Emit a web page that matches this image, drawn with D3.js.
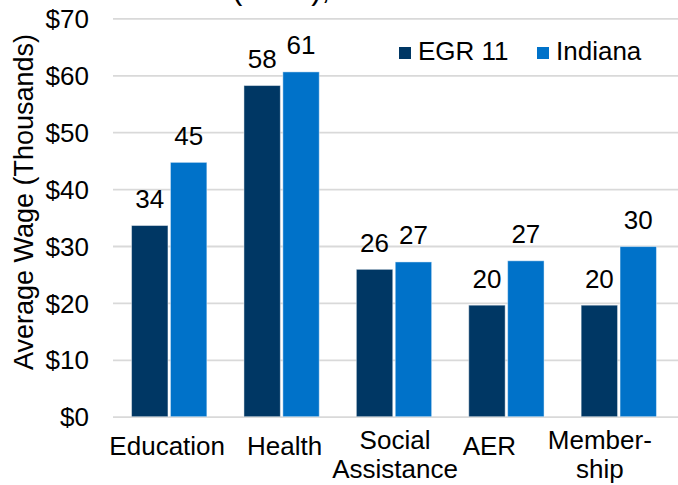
<!DOCTYPE html>
<html>
<head>
<meta charset="utf-8">
<script src="https://cdn.jsdelivr.net/npm/d3@7/dist/d3.min.js"></script>
<style>
  html, body { margin: 0; padding: 0; background: #fff; }
  svg { display: block; font-family: "Liberation Sans", Arial, sans-serif; }
</style>
</head>
<body>
<svg id="chart" width="678" height="485"></svg>
<script>
// ---- data ----
const categories = ["Education", "Health", "Social Assistance", "AER", "Membership"];
const categoryLines = [["Education"], ["Health"], ["Social", "Assistance"], ["AER"], ["Member-", "ship"]];
const seriesNames = ["EGR 11", "Indiana"];
const egr11 = [33.6, 58.2, 25.9, 19.6, 19.6];
const indiana = [44.7, 60.6, 27.2, 27.4, 29.9];
const yTicks = [0, 10, 20, 30, 40, 50, 60, 70];
const yTitle = "Average Wage (Thousands)";
const titleFragment = "(2021),";

// ---- layout ----
const W = 678, H = 485;
const plot = { left: 113, right: 675, top: 18.4, bottom: 416.7 };
const colors = { "EGR 11": "#003764", "Indiana": "#0072C9" };
const labelNudge = [-2, 3, 1, -17, -19];
const FONT = 26;

const svg = d3.select("#chart");

const table = categories.map((c, i) => ({ cat: c, lines: categoryLines[i], nudge: labelNudge[i],
  values: [{ s: seriesNames[0], v: egr11[i] }, { s: seriesNames[1], v: indiana[i] }] }));

const x = d3.scaleBand().domain(categories).range([plot.left, plot.right])
  .paddingInner(0.33).paddingOuter(0.165);
const x1 = d3.scaleBand().domain(seriesNames).range([0, x.bandwidth()]).paddingInner(0.064);
const y = d3.scaleLinear().domain([0, 70]).range([plot.bottom, plot.top]);

// partial title at top (cut off by the top edge, as in the reference)
svg.append("text").attr("x", 232).attr("y", -0.8)
  .attr("font-size", 31).attr("fill", "#000").text(titleFragment);

// gridlines
const yAxis = d3.axisLeft(y).tickValues(yTicks).tickSize(-(W - plot.left)).tickFormat(d => "$" + d);
const gy = svg.append("g").attr("transform", `translate(${plot.left},0)`).call(yAxis);
gy.select(".domain").remove();
gy.selectAll(".tick line").attr("stroke", "#d9d9d9").attr("stroke-width", 1.8);
gy.selectAll(".tick text").attr("x", -24).attr("dy", "0.35em")
  .attr("font-size", FONT).attr("fill", "#000").attr("font-family", "Liberation Sans, Arial, sans-serif");

// bars
const groups = svg.append("g").selectAll("g").data(table).join("g")
  .attr("transform", d => `translate(${x(d.cat)},0)`);

groups.selectAll("rect").data(d => d.values).join("rect")
  .attr("x", d => x1(d.s))
  .attr("width", x1.bandwidth())
  .attr("y", d => y(d.v))
  .attr("height", d => y(0) - y(d.v))
  .attr("fill", d => colors[d.s])
  .attr("stroke", "rgba(255,255,255,0.45)")
  .attr("stroke-width", 1);

// data labels
groups.selectAll("text.val").data(d => d.values).join("text")
  .attr("class", "val")
  .attr("x", d => x1(d.s) + x1.bandwidth() / 2)
  .attr("y", d => y(d.v) - 17.5)
  .attr("text-anchor", "middle")
  .attr("font-size", FONT).attr("fill", "#000")
  .text(d => Math.round(d.v));

// category labels
const cl = svg.append("g").selectAll("text").data(table).join("text")
  .attr("text-anchor", "middle")
  .attr("font-size", FONT).attr("fill", "#000")
  .attr("transform", d => `translate(${x(d.cat) + x.bandwidth() / 2 + d.nudge},0)`);
cl.each(function(d) {
  const t = d3.select(this);
  const base = d.lines.length === 1 ? 455 : 449.3;
  d.lines.forEach((ln, i) => {
    t.append("tspan").attr("x", 0).attr("y", base + i * 29).text(ln);
  });
});

// y axis title
svg.append("text")
  .attr("transform", `translate(33,202) rotate(-90)`)
  .attr("text-anchor", "middle")
  .attr("font-size", 27).attr("fill", "#000")
  .text(yTitle);

// legend
const legend = svg.append("g");
const legendX = [399, 537];
seriesNames.forEach((s, i) => {
  legend.append("rect").attr("x", legendX[i]).attr("y", 47).attr("width", 12).attr("height", 12)
    .attr("fill", colors[s]);
  legend.append("text").attr("x", legendX[i] + 19).attr("y", 60)
    .attr("font-size", FONT).attr("fill", "#000").text(s);
});
</script>
</body>
</html>
